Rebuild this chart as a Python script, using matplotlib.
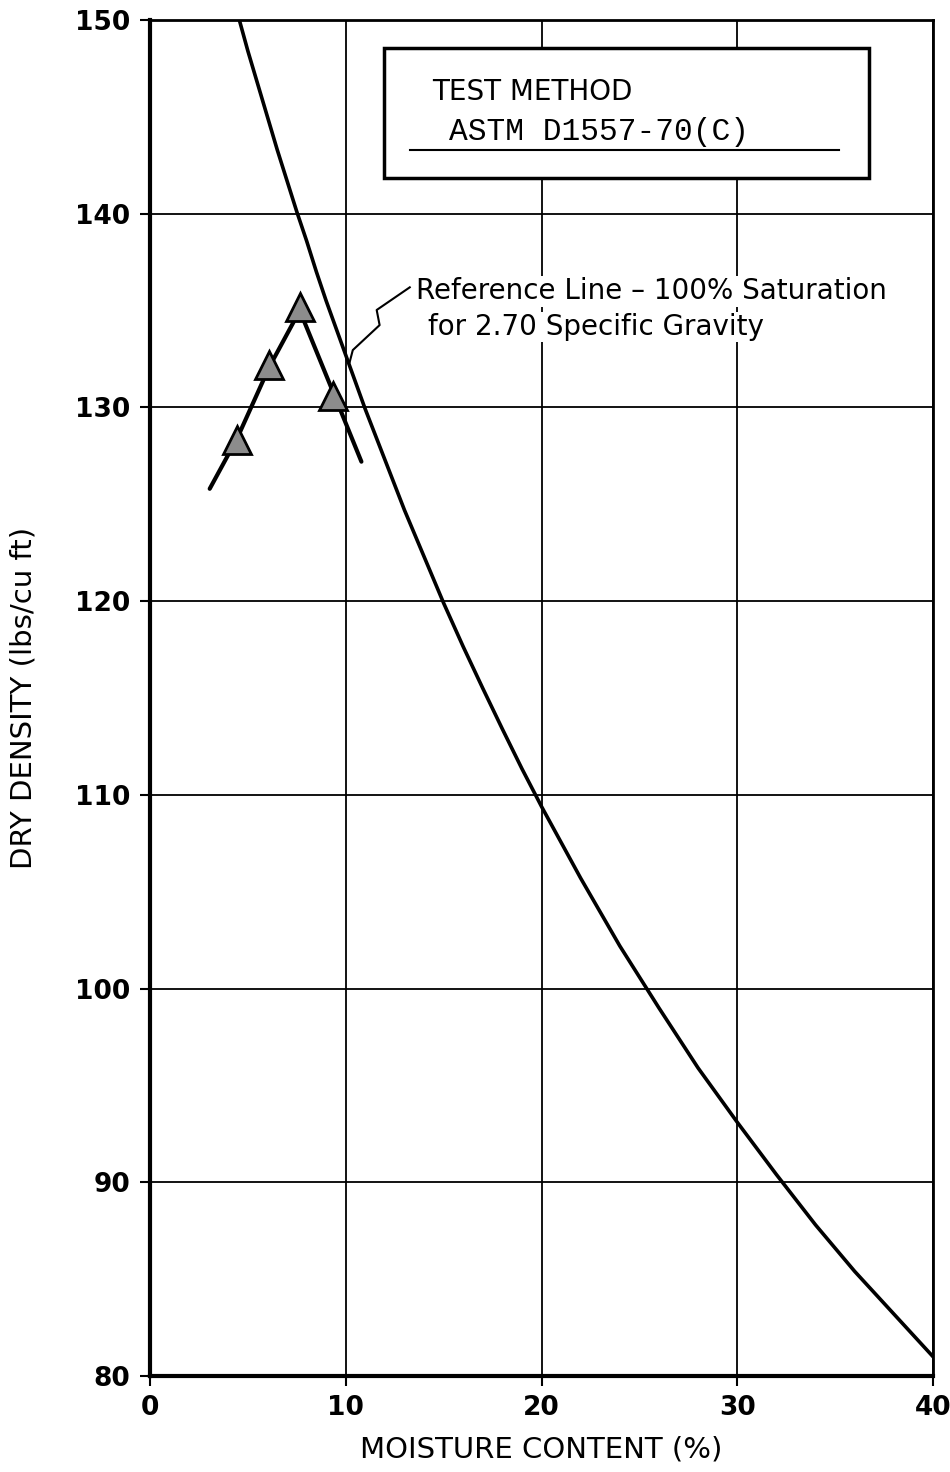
import matplotlib
matplotlib.use("Agg")
import matplotlib.pyplot as plt
from matplotlib.patches import Rectangle

# Saturation reference line (100% saturation, Gs = 2.70)
sat_moisture = [4.4, 5, 5.5, 6, 6.5, 7, 7.5, 8, 8.5, 9, 9.5, 10, 10.5, 11, 11.5,
                12, 12.5, 13, 13.5, 14, 14.5, 15, 16, 17, 18, 19, 20, 22, 24,
                26, 28, 30, 32, 34, 36, 38, 40]
sat_density = [150.6, 148.4, 146.7, 145.0, 143.3, 141.7, 140.1, 138.6, 137.0,
               135.5, 134.1, 132.7, 131.3, 129.9, 128.6, 127.3, 126.0, 124.7,
               123.5, 122.3, 121.1, 119.9, 117.65, 115.5, 113.4, 111.35, 109.4,
               105.7, 102.2, 99.0, 95.9, 93.1, 90.4, 87.8, 85.4, 83.2, 81.0]

# Compaction test points
test_moisture = [4.45, 6.1, 7.65, 9.35]
test_density = [128.3, 132.2, 135.2, 130.6]

# Compaction curve drawn through the points
curve_moisture = [3.05, 4.45, 6.1, 7.65, 9.35, 10.8]
curve_density = [125.8, 128.4, 132.1, 135.0, 130.8, 127.2]

# Leader line from the annotation to the saturation curve
leader_x = [13.27, 11.58, 11.73, 10.36, 10.2]
leader_y = [136.2, 135.03, 134.25, 132.96, 132.34]

x_ticks = [0, 10, 20, 30, 40]
y_ticks = [80, 90, 100, 110, 120, 130, 140, 150]

plt.rcParams['font.family'] = ['DejaVu Sans']

fig = plt.figure(figsize=(9.5, 14.72), dpi=100)
ax = fig.add_axes([150/950, 1 - 1376/1472, (933-150)/950, (1376-20)/1472])

ax.set_xlim(0, 40)
ax.set_ylim(80, 150)
ax.set_xticks(x_ticks)
ax.set_yticks(y_ticks)
ax.grid(True, color='black', linewidth=1.3, zorder=0)
ax.set_axisbelow(True)

for side in ['left', 'bottom']:
    ax.spines[side].set_linewidth(3)
for side in ['top', 'right']:
    ax.spines[side].set_linewidth(2)

ax.tick_params(axis='both', direction='out', length=7, width=1.5,
               labelsize=19, pad=7)
for lab in ax.get_xticklabels() + ax.get_yticklabels():
    lab.set_fontweight('bold')

ax.plot(sat_moisture, sat_density, color='black', linewidth=2.6, zorder=2,
        solid_joinstyle='round')
ax.plot(curve_moisture, curve_density, color='black', linewidth=3.0, zorder=2,
        solid_joinstyle='round', solid_capstyle='round')
ax.plot(test_moisture, test_density, linestyle='none', marker='^',
        markersize=20, markerfacecolor='#8c8c8c', markeredgecolor='black',
        markeredgewidth=2, zorder=4)

ax.plot(leader_x, leader_y, color='black', linewidth=1.5, zorder=4)

# Test method box
box = Rectangle((11.95, 141.85), 24.8, 6.7, facecolor='white',
                edgecolor='black', linewidth=2.5, zorder=3)
ax.add_patch(box)
ax.text(14.4, 146.3, 'TEST METHOD', fontsize=20, ha='left', va='center',
        zorder=5)
ax.text(15.25, 144.2, 'ASTM D1557-70(C)', fontsize=22.5, ha='left',
        va='center', family='Liberation Mono', zorder=5)
ax.plot([13.3, 35.2], [143.3, 143.3], color='black', linewidth=1.5, zorder=5)

ax.text(13.6, 136.0, 'Reference Line – 100% Saturation', fontsize=20,
        ha='left', va='center', zorder=5,
        bbox=dict(facecolor='white', edgecolor='none', pad=1))
ax.text(14.2, 134.15, 'for 2.70 Specific Gravity', fontsize=20,
        ha='left', va='center', zorder=5,
        bbox=dict(facecolor='white', edgecolor='none', pad=1))

ax.set_xlabel('MOISTURE CONTENT (%)', fontsize=21, labelpad=10)
ax.set_ylabel('DRY DENSITY (lbs/cu ft)', fontsize=21, labelpad=27)

fig.savefig('out.png', dpi=100, facecolor='white')
